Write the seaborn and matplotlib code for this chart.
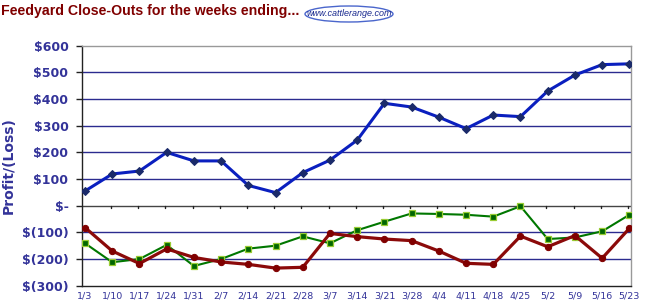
import numpy as np
import pandas as pd
import matplotlib
matplotlib.use("Agg")
import matplotlib.pyplot as plt
from matplotlib.patches import Ellipse
from matplotlib import font_manager
import seaborn as sns

weeks = ["1/3", "1/10", "1/17", "1/24", "1/31", "2/7", "2/14", "2/21", "2/28", "3/7", "3/14",
         "3/21", "3/28", "4/4", "4/11", "4/18", "4/25", "5/2", "5/9", "5/16", "5/23"]
blue_vals = [55, 119, 130, 200, 168, 168, 76, 49, 124, 171, 246,
             384, 370, 332, 289, 340, 334, 430, 490, 529, 532]
red_vals = [-82, -170, -217, -162, -194, -211, -220, -234, -231, -104, -116,
            -125, -131, -170, -216, -220, -114, -154, -112, -197, -85]
green_vals = [-141, -212, -200, -147, -226, -200, -161, -150, -115, -141, -92,
              -60, -29, -31, -34, -41, -2, -125, -119, -96, -34]
ytick_vals = [600, 500, 400, 300, 200, 100, 0, -100, -200, -300]
ytick_labels = ["$600", "$500", "$400", "$300", "$200", "$100", "$-", "$(100)", "$(200)", "$(300)"]

sns.set_style("white")
plt.rcParams['font.family'] = ['DejaVu Sans']
installed = {f.name for f in font_manager.fontManager.ttflist}
narrow = "Liberation Sans Narrow" if "Liberation Sans Narrow" in installed else "Liberation Sans"

fig = plt.figure(figsize=(6.45, 3.07), dpi=100)
ax = fig.add_axes([82.3/645, 1-285.7/307, (631-82.3)/645, (285.7-45.7)/307])

lab_color = "#333399"
idx = np.arange(len(weeks))
df = pd.DataFrame({"idx": idx, "blue": blue_vals, "red": red_vals, "green": green_vals})

for v in [100, 200, 300, 400, 500, -100, -200]:
    ax.axhline(v, color="#2b2b8f", lw=1.0, zorder=1)
ax.axhline(0, color="#444444", lw=1.0, zorder=1)

sns.lineplot(data=df, x="idx", y="green", ax=ax, color="#007700", lw=1.5,
             marker="s", markersize=4.5, markerfacecolor="#006600",
             markeredgecolor="#99cc33", markeredgewidth=0.9, zorder=3)
sns.lineplot(data=df, x="idx", y="red", ax=ax, color="#8b0a0a", lw=2.3,
             marker="o", markersize=4.5, markerfacecolor="#800000",
             markeredgecolor="#800000", zorder=4)
sns.lineplot(data=df, x="idx", y="blue", ax=ax, color="#0a1fbf", lw=2.2,
             marker="D", markersize=4.5, markerfacecolor="#1a2a6a",
             markeredgecolor="#1a2a6a", zorder=5)

ax.set_xlim(-0.1, len(weeks) - 1 + 0.06)
ax.set_ylim(-300, 600)
ax.set_yticks(ytick_vals)
ax.set_yticklabels(ytick_labels)
ax.set_xticks(idx)
ax.set_xticklabels(weeks)
ax.set_xlabel("")
ax.set_ylabel("Profit/(Loss)", color=lab_color, fontsize=10, fontweight="bold", labelpad=4)

for lab in ax.get_yticklabels():
    lab.set_color(lab_color)
    lab.set_fontweight("bold")
    lab.set_fontsize(9)
ax.tick_params(axis="y", which="both", left=True, length=4, width=1, color="#222222", pad=6)
ax.tick_params(axis="x", which="both", bottom=False, length=0, pad=4)
for lab in ax.get_xticklabels():
    lab.set_color(lab_color)
    lab.set_fontsize(6.8)

# ticks hanging down from the zero line
for i in idx[1:]:
    ax.plot([i - 0.05, i - 0.05], [0, -8], color="#222222", lw=1, zorder=2)

for s in ["top", "right"]:
    ax.spines[s].set_visible(True)
    ax.spines[s].set_color("#999999")
    ax.spines[s].set_linewidth(1)
ax.spines["left"].set_color("#222222")
ax.spines["bottom"].set_color("#222222")
ax.spines["left"].set_linewidth(1)
ax.spines["bottom"].set_linewidth(1)

fig.text(1/645, 1-11/307, "Feedyard Close-Outs for the weeks ending...", color="#800000",
         fontsize=10.2, fontweight="bold", va="center", ha="left", family=narrow)
ell = Ellipse((349/645, 1-14/307), 88/645, 16/307, transform=fig.transFigure,
              facecolor="white", edgecolor="#4a66cc", lw=1.0)
fig.add_artist(ell)
fig.text(349/645, 1-14/307, "www.cattlerange.com", color="#1a2a8f", fontsize=6.5,
         style="italic", ha="center", va="center", family=narrow)

fig.savefig("out.png", dpi=100)
